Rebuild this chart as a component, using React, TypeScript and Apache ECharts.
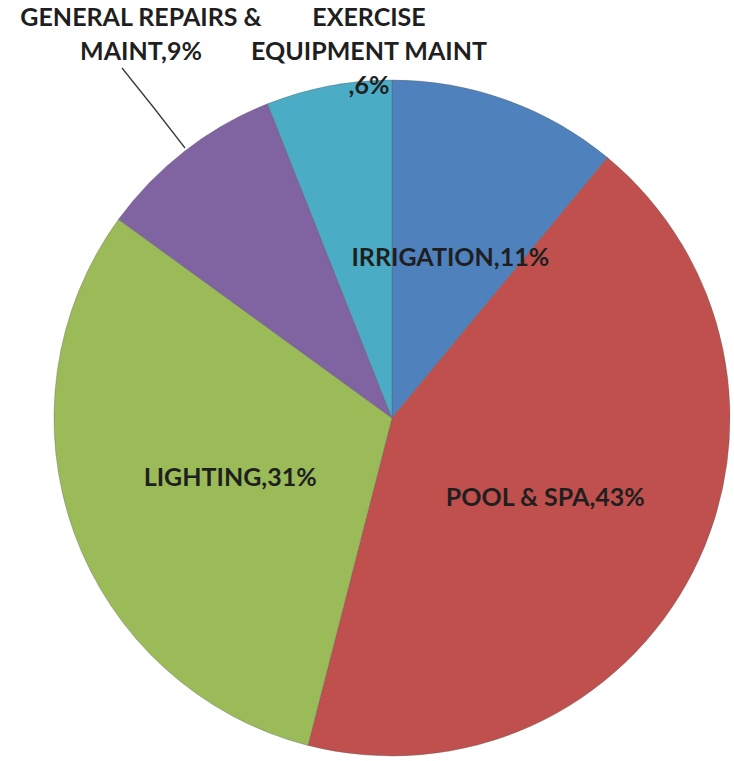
import React, { useEffect, useRef } from "react";
import * as echarts from "echarts";

const categories = [
  "IRRIGATION",
  "POOL & SPA",
  "LIGHTING",
  "GENERAL REPAIRS & MAINT",
  "EXERCISE EQUIPMENT MAINT",
];
const values = [11, 43, 31, 9, 6];
const colors = ["#4F81BD", "#C0504D", "#9BBB59", "#8064A2", "#4BACC6"];
// how the long category names wrap in the labels
const wrappedNames: Record<number, string> = {
  3: "GENERAL REPAIRS &\nMAINT",
  4: "EXERCISE\nEQUIPMENT MAINT\n",
};

export default function App() {
  const ref = useRef<HTMLDivElement>(null);
  useEffect(() => {
    if (!ref.current) return;
    const chart = echarts.init(ref.current, null, { renderer: "svg" });
    const labelFont = {
      fontFamily: "Lato",
      fontWeight: "bold" as const,
      fontSize: 25,
      color: "#1f1f1f",
      lineHeight: 34,
    };
    chart.setOption({
      animation: false,
      backgroundColor: "#ffffff",
      series: [
        {
          type: "pie",
          center: [392, 418],
          radius: 338,
          startAngle: 90,
          clockwise: true,
          avoidLabelOverlap: false,
          itemStyle: { borderColor: "rgba(90,90,90,0.45)", borderWidth: 0.8 },
          emphasis: { disabled: true },
          label: {
            show: true,
            position: "inside",
            ...labelFont,
            formatter: (p: any) =>
              (wrappedNames[p.dataIndex] ?? p.name) + "," + Math.round(p.percent) + "%",
          },
          labelLine: { show: false },
          labelLayout: (p: any) => {
            if (p.dataIndex === 3) {
              return {
                x: 141,
                y: 33,
                align: "center",
                verticalAlign: "middle",
                labelLinePoints: [
                  [185, 148],
                  [154, 108],
                  [122, 68],
                ],
              };
            }
            if (p.dataIndex === 4) {
              return { x: 369, y: 50, align: "center", verticalAlign: "middle" };
            }
            return {};
          },
          data: categories.map((name, i) => ({
            name,
            value: values[i],
            itemStyle: { color: colors[i] },
            ...(i === 3
              ? {
                  label: { position: "outside" },
                  labelLine: { show: true, lineStyle: { color: "#3a3a3a", width: 1.3 } },
                }
              : {}),
            ...(i === 4 ? { label: { position: "outside" }, labelLine: { show: false } } : {}),
          })),
        },
      ],
    });
    return () => chart.dispose();
  }, []);
  return (
    <div
      ref={ref}
      style={{ position: "absolute", left: 0, top: 0, width: 734, height: 761 }}
    />
  );
}
